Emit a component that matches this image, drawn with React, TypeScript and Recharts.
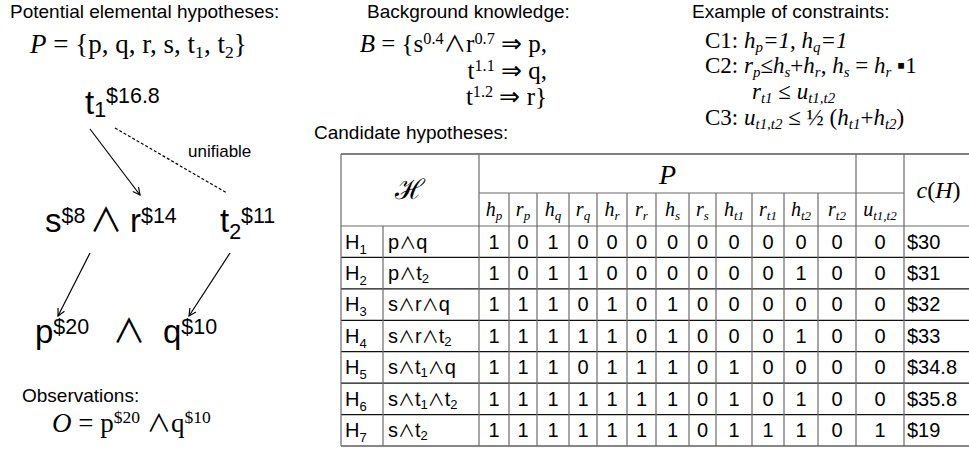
import React from 'react';
import { ComposedChart, XAxis, YAxis, Scatter, ReferenceLine } from 'recharts';

const W = 969;
const H = 451;
const SANS = "'Liberation Sans', Arial, Helvetica, sans-serif";
const SERIF = "'Liberation Serif', 'Times New Roman', Times, serif";
const SYM = "'Noto Sans CJK JP', 'DejaVu Sans', sans-serif";

// elemental hypotheses and their costs
const elementNames = ['p', 'q', 'r', 's', 't1', 't2'];
const elementCosts = [20, 10, 14, 8, 16.8, 11];
// background knowledge weights: s^0.4 & r^0.7 => p, t^1.1 => q, t^1.2 => r
const ruleWeights = [0.4, 0.7, 1.1, 1.2];

// candidate hypotheses table
const hypothesisTerms = [
  ['p', 'q'],
  ['p', 't2'],
  ['s', 'r', 'q'],
  ['s', 'r', 't2'],
  ['s', 't1', 'q'],
  ['s', 't1', 't2'],
  ['s', 't2'],
];
const variableKinds = ['h', 'r'];
const assignments = [
  [1, 0, 1, 0, 0, 0, 0, 0, 0, 0, 0, 0],
  [1, 0, 1, 1, 0, 0, 0, 0, 0, 0, 1, 0],
  [1, 1, 1, 0, 1, 0, 1, 0, 0, 0, 0, 0],
  [1, 1, 1, 1, 1, 0, 1, 0, 0, 0, 1, 0],
  [1, 1, 1, 0, 1, 1, 1, 0, 1, 0, 0, 0],
  [1, 1, 1, 1, 1, 1, 1, 0, 1, 0, 1, 0],
  [1, 1, 1, 1, 1, 1, 1, 0, 1, 1, 1, 0],
];
const unifications = [0, 0, 0, 0, 0, 0, 1];
const hypothesisCosts = [30, 31, 32, 33, 34.8, 35.8, 19];

const cost = (n: string) => elementCosts[elementNames.indexOf(n)];
const el = (n: string) => (n.length > 1 ? `${n[0]}_{${n.slice(1)}}` : n);

// --- tiny markup: *..* italic, _{..} subscript, ^{..} superscript; ∧ drawn in a symbol font
type Seg = { text: string; pos: number; it: boolean; sym: boolean };
function parseMarkup(src: string): Seg[] {
  const segs: Seg[] = [];
  let it = false;
  let pos = 0;
  let buf = '';
  const flush = () => {
    if (buf) segs.push({ text: buf, pos, it, sym: false });
    buf = '';
  };
  for (let i = 0; i < src.length; i++) {
    const c = src[i];
    if ((c === '_' || c === '^') && src[i + 1] === '{') {
      flush();
      pos = c === '_' ? 1 : -1;
      i++;
      continue;
    }
    if (c === '}' && pos !== 0) {
      flush();
      pos = 0;
      continue;
    }
    if (c === '*') {
      flush();
      it = !it;
      continue;
    }
    if (c === '∧') {
      flush();
      segs.push({ text: c, pos, it: false, sym: true });
      continue;
    }
    buf += c;
  }
  flush();
  return segs;
}

function RichText({ x, y, src, fs, font, anchor = 'start', scale = 0.65, subK = 0.2, supK = -0.34, symK = 1 }: any) {
  const segs = parseMarkup(src);
  let cur = 0;
  return (
    <text x={x} y={y} fontSize={fs} fontFamily={font} textAnchor={anchor} fill="#000" style={{ whiteSpace: 'pre' }}>
      {segs.map((s, k) => {
        const target = s.pos === 1 ? fs * subK : s.pos === -1 ? fs * supK : 0;
        const dy = target - cur;
        cur = target;
        const size = (s.pos ? fs * scale : fs) * (s.sym ? symK : 1);
        return (
          <tspan key={k} dy={dy} fontSize={size} fontStyle={s.it ? 'italic' : 'normal'}
            fontFamily={s.sym ? SYM : undefined}>
            {s.text}
          </tspan>
        );
      })}
    </text>
  );
}

// --- layout
const colEdges = [479, 509, 537, 569, 597, 627, 656, 689, 716, 752, 784, 818, 856];
const uCol = [856, 904];
const costCol = [904, 969];
const tableLeft = 341;
const nameSplit = 383;
const tableTop = 154;
const subHeadY = 193;
const headBottom = 226;
const rowH = 31.43;
const rowTop = (i: number) => headBottom + rowH * i;

const node = { fs: 33, font: SANS, supK: -0.27, subK: 0.2 };
const cons = { fs: 23, font: SERIF, subK: 0.16 };
const texts = [
  { x: 10, y: 18, src: 'Potential elemental hypotheses:', fs: 19, font: SANS },
  { x: 30, y: 53, src: `*P* = {${elementNames.map(el).join(', ')}}`, fs: 27, font: SERIF },
  { x: 85, y: 114, src: `t_{1}^{$${cost('t1')}}`, ...node, subK: 0.1, supK: -0.33 },
  { x: 188, y: 157, src: 'unifiable', fs: 17, font: SANS },
  { x: 45, y: 232, src: `s^{$${cost('s')}}`, ...node },
  { x: 106, y: 232, src: '∧', ...node, anchor: 'middle', symK: 1 },
  { x: 130, y: 232, src: `r^{$${cost('r')}}`, ...node },
  { x: 220, y: 232, src: `t_{2}^{$${cost('t2')}}`, ...node },
  { x: 35, y: 343, src: `p^{$${cost('p')}}`, ...node },
  { x: 129, y: 343, src: '∧', ...node, anchor: 'middle', symK: 1 },
  { x: 163, y: 343, src: `q^{$${cost('q')}}`, ...node },
  { x: 22, y: 402, src: 'Observations:', fs: 19, font: SANS },
  { x: 52, y: 432, src: `*O* = p^{$${cost('p')}} ∧q^{$${cost('q')}}`, fs: 27, font: SERIF, symK: 0.9 },

  { x: 367, y: 18, src: 'Background knowledge:', fs: 19, font: SANS },
  { x: 547, y: 52, src: `*B* = {s^{${ruleWeights[0]}}∧r^{${ruleWeights[1]}} ⇒ p,`, fs: 25, font: SERIF, anchor: 'end', symK: 0.9 },
  { x: 547, y: 79, src: `t^{${ruleWeights[2]}} ⇒ q,`, fs: 25, font: SERIF, anchor: 'end' },
  { x: 547, y: 105, src: `t^{${ruleWeights[3]}} ⇒ r}`, fs: 25, font: SERIF, anchor: 'end' },
  { x: 314, y: 139, src: 'Candidate hypotheses:', fs: 19, font: SANS },

  { x: 692, y: 18, src: 'Example of constraints:', fs: 19, font: SANS },
  { x: 705, y: 48, src: 'C1: *h_{p}=1*, *h_{q}=1*', ...cons },
  { x: 705, y: 73, src: 'C2: *r_{p}*≤*h_{s}*+*h_{r}*, *h_{s}* = *h_{r}* ▪1', ...cons },
  { x: 752, y: 99, src: '*r_{t1}* ≤ *u_{t1,t2}*', ...cons },
  { x: 705, y: 125, src: 'C3: *u_{t1,t2}* ≤ ½ (*h_{t1}*+*h_{t2}*)', ...cons },

  { x: (tableLeft + colEdges[0]) / 2, y: 199, src: 'ℋ', fs: 28, font: SERIF, anchor: 'middle' },
  { x: (colEdges[0] + uCol[0]) / 2, y: 184, src: '*P*', fs: 28, font: SERIF, anchor: 'middle' },
  { x: (costCol[0] + costCol[1]) / 2 + 2, y: 198, src: '*c*(*H*)', fs: 24, font: SERIF, anchor: 'middle' },
  { x: (uCol[0] + uCol[1]) / 2, y: 216, src: '*u_{t1,t2}*', fs: 20, font: SERIF, anchor: 'middle' },
];

const columns = elementNames.flatMap((n) => variableKinds.map((k) => ({ k, n })));
const headerCells = columns.map((c, j) => ({
  x: (colEdges[j] + colEdges[j + 1]) / 2,
  y: 216,
  src: `*${c.k}_{${c.n}}*`,
  fs: 20,
  font: SERIF,
  anchor: 'middle',
}));

const bodyCells = hypothesisTerms.flatMap((terms, i) => {
  const base = rowTop(i) + 22.5;
  const row: any[] = [
    { x: 345, y: base, src: `H_{${i + 1}}`, fs: 20, font: SANS, subK: 0.25 },
    { x: 388, y: base, src: terms.map(el).join('∧'), fs: 20, font: SANS, subK: 0.15, symK: 0.85 },
    { x: costCol[0] + 3, y: base, src: `$${hypothesisCosts[i]}`, fs: 20, font: SANS },
    { x: (uCol[0] + uCol[1]) / 2, y: base, src: String(unifications[i]), fs: 20, font: SANS, anchor: 'middle' },
  ];
  assignments[i].forEach((v, j) => {
    row.push({ x: (colEdges[j] + colEdges[j + 1]) / 2, y: base, src: String(v), fs: 20, font: SANS, anchor: 'middle' });
  });
  return row;
});

const edges = [
  { a: { x: 90, y: 129 }, b: { x: 140, y: 195 }, dashed: false },
  { a: { x: 115, y: 128 }, b: { x: 227, y: 193 }, dashed: true },
  { a: { x: 90, y: 253 }, b: { x: 58, y: 316 }, dashed: false },
  { a: { x: 230, y: 253 }, b: { x: 189, y: 316 }, dashed: false },
];

const GRID = '#6b6b6b';
const hLines: { y: number; x1: number; x2: number; color: string; w: number }[] = [
  { y: tableTop, x1: tableLeft, x2: W, color: '#808080', w: 2 },
  { y: subHeadY, x1: colEdges[0], x2: costCol[0], color: GRID, w: 1 },
  { y: headBottom, x1: tableLeft, x2: W, color: GRID, w: 1.2 },
  ...hypothesisTerms.map((_, i) => ({ y: rowTop(i + 1), x1: tableLeft, x2: W, color: '#111', w: 1.2 })),
];
const vLines: { x: number; y1: number; y2: number }[] = [
  { x: tableLeft, y1: tableTop, y2: rowTop(7) },
  { x: nameSplit, y1: headBottom, y2: rowTop(7) },
  { x: colEdges[0], y1: tableTop, y2: rowTop(7) },
  ...colEdges.slice(1, -1).map((x) => ({ x, y1: subHeadY, y2: rowTop(7) })),
  { x: uCol[0], y1: tableTop, y2: rowTop(7) },
  { x: uCol[1], y1: tableTop, y2: rowTop(7) },
];

const textShape = (p: any) => (
  <RichText {...p.payload} x={p.cx} y={p.cy} />
);

export default function App() {
  return (
    <div style={{ position: 'absolute', left: 0, top: 0, background: '#fff' }}>
      <ComposedChart width={W} height={H} margin={{ top: 0, right: 0, bottom: 0, left: 0 }}>
        <defs>
          <marker id="arrowHead" viewBox="0 0 10 10" refX="9" refY="5" markerWidth="9" markerHeight="9"
            markerUnits="userSpaceOnUse" orient="auto">
            <path d="M1,1 L9,5 L1,9" fill="none" stroke="#000" strokeWidth={1.3} />
          </marker>
        </defs>
        <XAxis type="number" dataKey="x" domain={[0, W]} hide allowDataOverflow />
        <YAxis type="number" dataKey="y" domain={[0, H]} reversed hide allowDataOverflow />
        {hLines.map((l, i) => (
          <ReferenceLine key={`h${i}`} segment={[{ x: l.x1, y: l.y }, { x: l.x2, y: l.y }]}
            stroke={l.color} strokeWidth={l.w} ifOverflow="visible" />
        ))}
        {vLines.map((l, i) => (
          <ReferenceLine key={`v${i}`} segment={[{ x: l.x, y: l.y1 }, { x: l.x, y: l.y2 }]}
            stroke={GRID} strokeWidth={1.2} ifOverflow="visible" />
        ))}
        {edges.map((e, i) => (
          <ReferenceLine key={`e${i}`} segment={[e.a, e.b]} stroke="#000" strokeWidth={1.2}
            strokeDasharray={e.dashed ? '3 2' : undefined}
            markerEnd={e.dashed ? undefined : 'url(#arrowHead)'} ifOverflow="visible" />
        ))}
        <Scatter data={texts} shape={textShape} isAnimationActive={false} />
        <Scatter data={headerCells} shape={textShape} isAnimationActive={false} />
        <Scatter data={bodyCells} shape={textShape} isAnimationActive={false} />
      </ComposedChart>
    </div>
  );
}
